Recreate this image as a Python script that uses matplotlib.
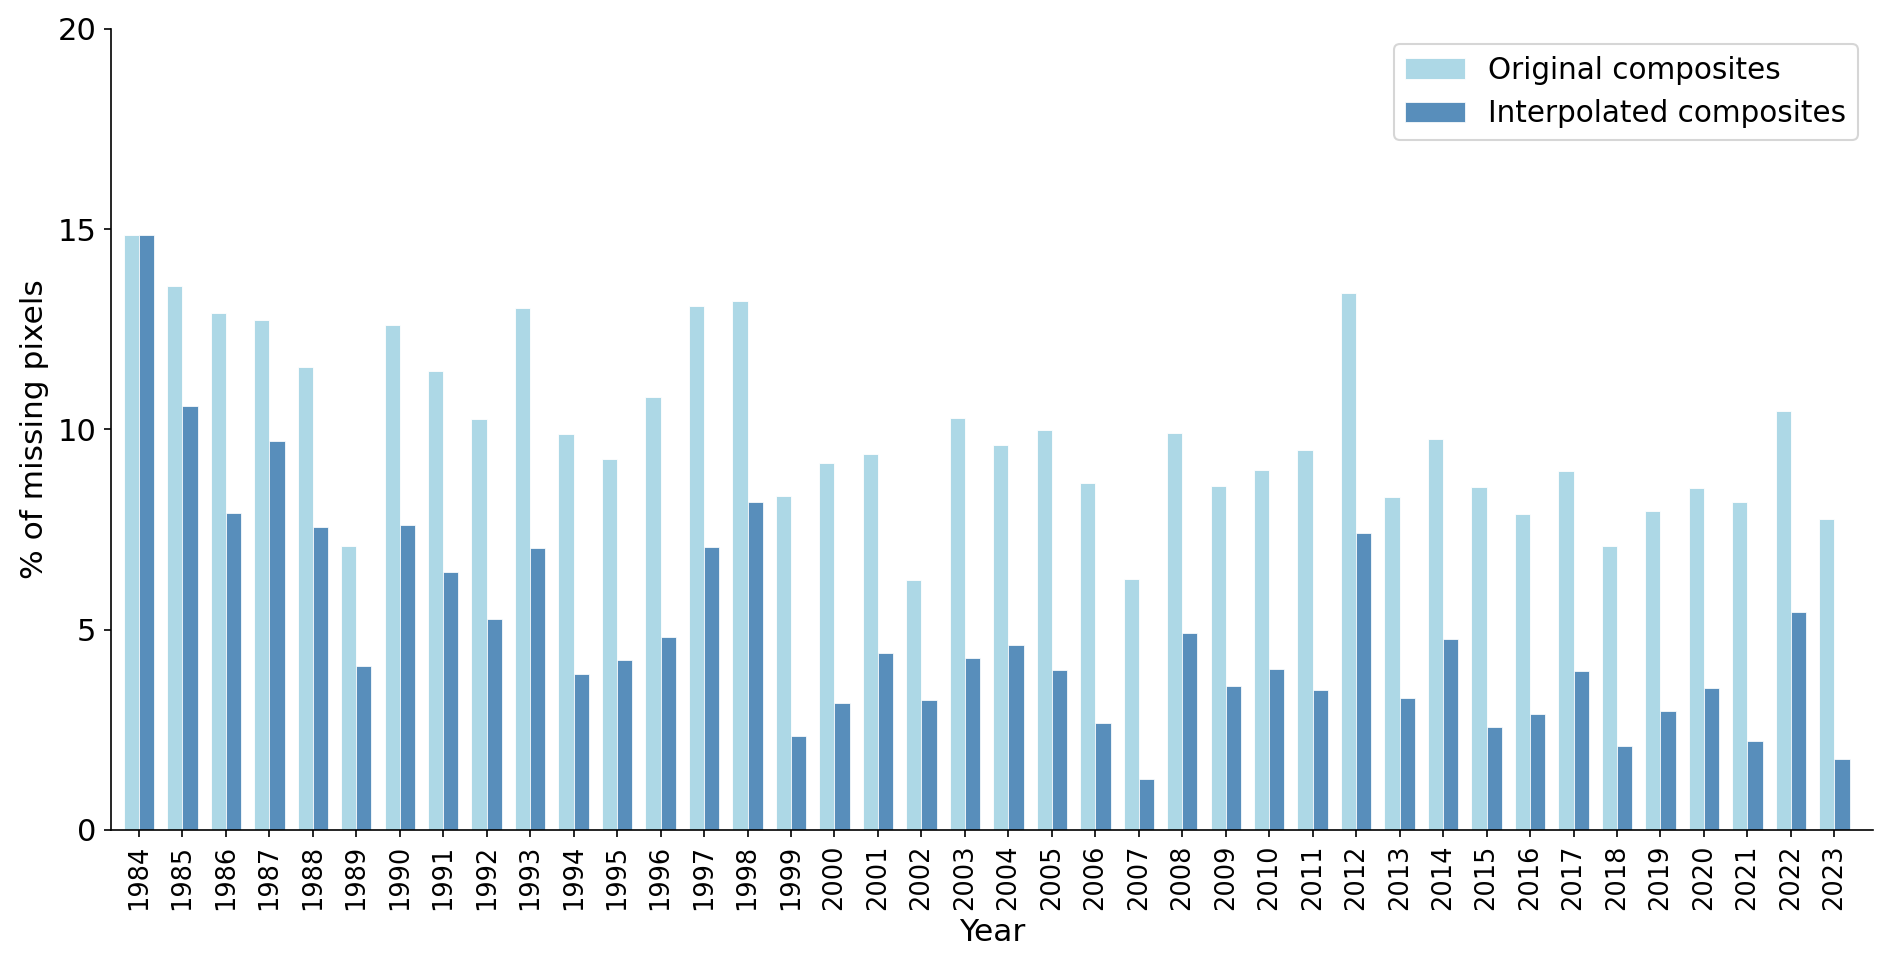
import numpy as np
import matplotlib
matplotlib.use('Agg')
import matplotlib.pyplot as plt

years = list(range(1984, 2024))
original = [14.85, 13.58, 12.90, 12.72, 11.57, 7.08, 12.61, 11.46, 10.26, 13.04,
            9.89, 9.25, 10.80, 13.07, 13.20, 8.34, 9.16, 9.39, 6.24, 10.29,
            9.62, 9.98, 8.65, 6.27, 9.91, 8.59, 8.99, 9.49, 13.41, 8.31,
            9.75, 8.57, 7.90, 8.97, 7.10, 7.96, 8.54, 8.20, 10.46, 7.76]
interpolated = [14.85, 10.58, 7.91, 9.71, 7.57, 4.09, 7.62, 6.45, 5.27, 7.05,
                3.90, 4.24, 4.81, 7.07, 8.20, 2.35, 3.16, 4.41, 3.24, 4.30,
                4.61, 3.99, 2.66, 1.27, 4.92, 3.59, 4.01, 3.50, 7.42, 3.30,
                4.76, 2.58, 2.90, 3.98, 2.10, 2.96, 3.55, 2.23, 5.45, 1.77]

x = np.arange(len(years))
width = 0.35

fig = plt.figure(figsize=(1892 / 150, 965 / 150), dpi=150)
ax = fig.add_axes([0.0587, 0.140, 0.9313, 0.830])

ax.bar(x - width / 2, original, width, color='lightblue',
       edgecolor='white', linewidth=0.4, label='Original composites')
ax.bar(x + width / 2, interpolated, width, color='steelblue', alpha=0.9,
       edgecolor='white', linewidth=0.4, label='Interpolated composites')

ax.set_xticks(x)
ax.set_xticklabels(years, rotation=90, fontsize=12.3)
ax.set_xlim(-0.64, 39.89)
ax.set_ylim(0, 20)
ax.set_yticks([0, 5, 10, 15, 20])
ax.tick_params(axis='y', labelsize=14.7)
ax.set_xlabel('Year', fontsize=15)
ax.set_ylabel('% of missing pixels', fontsize=15)
ax.spines['top'].set_visible(False)
ax.spines['right'].set_visible(False)
ax.legend(loc='upper right', fontsize=14.2)

fig.savefig('out.png', dpi=150, facecolor='white')
